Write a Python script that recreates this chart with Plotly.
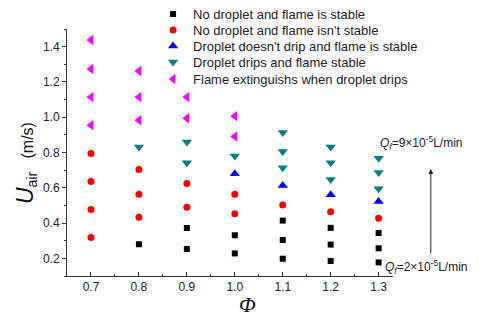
import plotly.graph_objects as go

# Data
phi_black = [0.8, 0.9, 0.9, 1.0, 1.0, 1.1, 1.1, 1.1, 1.2, 1.2, 1.2, 1.3, 1.3, 1.3]
u_black = [0.28, 0.372, 0.253, 0.331, 0.228, 0.414, 0.304, 0.198, 0.373, 0.278, 0.185, 0.344, 0.257, 0.177]

phi_red = [0.7, 0.7, 0.7, 0.7, 0.8, 0.8, 0.8, 0.9, 0.9, 1.0, 1.0, 1.1, 1.2, 1.3]
u_red = [0.318, 0.477, 0.636, 0.795, 0.433, 0.564, 0.704, 0.490, 0.625, 0.453, 0.564, 0.503, 0.464, 0.427]

phi_blue = [1.0, 1.1, 1.2, 1.3]
u_blue = [0.680, 0.613, 0.560, 0.522]

phi_teal = [0.8, 0.9, 0.9, 1.0, 1.1, 1.1, 1.1, 1.2, 1.2, 1.2, 1.3, 1.3, 1.3]
u_teal = [0.831, 0.860, 0.742, 0.780, 0.913, 0.805, 0.714, 0.831, 0.742, 0.647, 0.767, 0.687, 0.595]

phi_mag = [0.7, 0.7, 0.7, 0.7, 0.8, 0.8, 0.8, 0.9, 0.9, 1.0, 1.0]
u_mag = [1.438, 1.273, 1.114, 0.955, 1.262, 1.114, 0.983, 1.114, 0.994, 1.006, 0.890]

names = ["No droplet and flame is stable",
         "No droplet and flame isn't stable",
         "Droplet doesn't drip and flame is stable",
         "Droplet drips and flame stable",
         "Flame extinguishs when droplet drips"]

x_ticks = [0.7, 0.8, 0.9, 1.0, 1.1, 1.2, 1.3]
y_ticks = [0.2, 0.4, 0.6, 0.8, 1.0, 1.2, 1.4]

fig = go.Figure()
series = [
    (phi_black, u_black, "square", "#000000", 6),
    (phi_red, u_red, "circle", "#FF0000", 7),
    (phi_blue, u_blue, "triangle-up", "#0000FF", 9),
    (phi_teal, u_teal, "triangle-down", "#008080", 9),
    (phi_mag, u_mag, "triangle-left", "#FF00FF", 9),
]
legend_ids = ["legend", "legend2", "legend3", "legend4", "legend5"]
for (xs, ys, sym, col, sz), nm, lg in zip(series, names, legend_ids):
    fig.add_trace(go.Scatter(x=xs, y=ys, mode="markers", name=nm, legend=lg,
                             marker=dict(symbol=sym, color=col, size=sz, line=dict(width=0))))

# one legend per row so that the rows are spaced as in the reference
row_y = [1.0607, 0.9960, 0.9312, 0.8664, 0.7976]
legend_cfg = {}
for lg, yy in zip(legend_ids, row_y):
    legend_cfg[lg] = dict(x=0.264, y=yy, xanchor="left", yanchor="middle",
                          bgcolor="rgba(0,0,0,0)", font=dict(size=13, color="#222"),
                          borderwidth=0)

fig.update_layout(
    width=479, height=320,
    margin=dict(l=67, r=86, t=29, b=44, autoexpand=False),
    paper_bgcolor="white", plot_bgcolor="white",
    font=dict(family="Liberation Sans, Arial, sans-serif", size=12, color="#222"),
    showlegend=True,
    xaxis=dict(range=[0.65, 1.33], tickvals=x_ticks, ticktext=[f"{v:.1f}" for v in x_ticks],
               showgrid=False, zeroline=False, showline=True, linecolor="#333", linewidth=1,
               ticks="inside", ticklen=4, tickcolor="#333",
               minor=dict(ticks="inside", ticklen=2, dtick=0.05, tick0=0.65, tickcolor="#333")),
    yaxis=dict(range=[0.1, 1.5], tickvals=y_ticks, ticktext=[f"{v:.1f}" for v in y_ticks],
               showgrid=False, zeroline=False, showline=True, linecolor="#333", linewidth=1,
               ticks="outside", ticklen=4, tickcolor="#333",
               minor=dict(ticks="outside", ticklen=2, dtick=0.1, tick0=0.1, tickcolor="#333")),
    **legend_cfg,
)

# Axis titles
fig.add_annotation(xref="paper", yref="paper", x=-0.126, y=0.457, textangle=-90,
                   showarrow=False, xanchor="center", yanchor="middle",
                   text="<i><span style='font-size:23px'>U</span></i><sub>air</sub><span style='font-size:16px'>   (m/s)</span>",
                   font=dict(size=20, color="#111"))
fig.add_annotation(xref="paper", yref="paper", x=0.555, y=-0.176, showarrow=False,
                   xanchor="center", yanchor="bottom",
                   text="<i>Φ</i>", font=dict(size=22, color="#111",
                                              family="Liberation Serif, Times New Roman, serif"))

# Flow rate annotations
fig.add_annotation(xref="paper", yref="paper", x=0.955, y=0.54, showarrow=False,
                   xanchor="left", yanchor="middle",
                   text="<i>Q<sub>f</sub></i>=9×10<sup>-5</sup>L/min", font=dict(size=12, color="#222"))
fig.add_annotation(xref="paper", yref="paper", x=0.968, y=0.036, showarrow=False,
                   xanchor="left", yanchor="middle",
                   text="<i>Q<sub>f</sub></i>=2×10<sup>-5</sup>L/min", font=dict(size=12, color="#222"))
fig.add_annotation(xref="paper", yref="paper", x=1.116, y=0.433, text="",
                   showarrow=True, arrowhead=2, arrowsize=1, arrowwidth=1, arrowcolor="#222",
                   ax=0, ay=86)

fig.write_html("out.html")
